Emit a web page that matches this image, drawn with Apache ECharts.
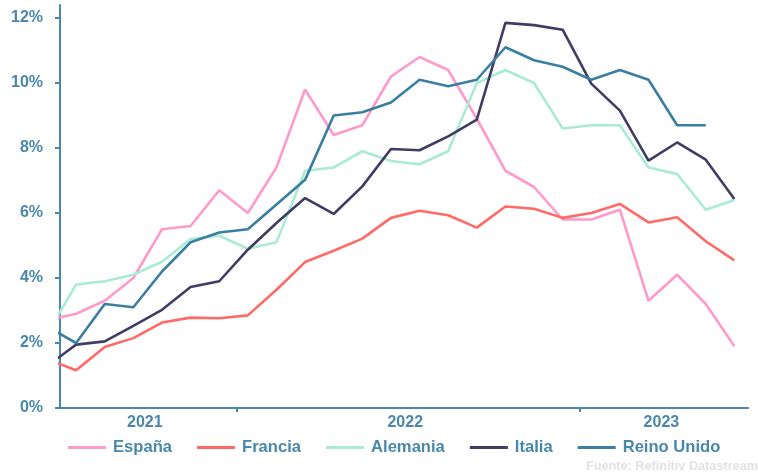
<!DOCTYPE html>
<html>
<head>
<meta charset="utf-8">
<script src="https://cdn.jsdelivr.net/npm/echarts@6/dist/echarts.min.js"></script>
<style>
html,body{margin:0;padding:0;background:#fff;}
#chart{width:758px;height:474px;}
</style>
</head>
<body>
<div id="chart"></div>
<script>
// Monthly data, Jun 2021 .. Jun 2023
var months = ['2021-06','2021-07','2021-08','2021-09','2021-10','2021-11','2021-12',
  '2022-01','2022-02','2022-03','2022-04','2022-05','2022-06','2022-07','2022-08','2022-09','2022-10','2022-11','2022-12',
  '2023-01','2023-02','2023-03','2023-04','2023-05','2023-06'];
var yearLabels = ['2021','2022','2023'];
var yTickLabels = ['0%','2%','4%','6%','8%','10%','12%'];

var espana   = [2.7, 2.9, 3.3, 4.0, 5.5, 5.6, 6.7, 6.0, 7.4, 9.8, 8.4, 8.7, 10.2, 10.8, 10.4, 8.9, 7.3, 6.8, 5.8, 5.8, 6.1, 3.3, 4.1, 3.2, 1.9];
var francia  = [1.5, 1.16, 1.88, 2.15, 2.63, 2.78, 2.76, 2.85, 3.64, 4.49, 4.84, 5.21, 5.85, 6.07, 5.93, 5.55, 6.2, 6.13, 5.85, 6.0, 6.28, 5.71, 5.87, 5.13, 4.54];
var alemania = [2.3, 3.8, 3.9, 4.1, 4.5, 5.2, 5.3, 4.9, 5.1, 7.3, 7.4, 7.9, 7.6, 7.5, 7.9, 10.0, 10.4, 10.0, 8.6, 8.7, 8.7, 7.4, 7.2, 6.1, 6.4];
var italia   = [1.3, 1.95, 2.05, 2.53, 3.02, 3.72, 3.9, 4.87, 5.69, 6.46, 5.97, 6.82, 7.97, 7.93, 8.36, 8.87, 11.85, 11.78, 11.64, 9.98, 9.15, 7.61, 8.17, 7.64, 6.43];
var reinoUnido = [2.5, 2.0, 3.2, 3.1, 4.2, 5.1, 5.4, 5.5, 6.26, 7.02, 9.0, 9.1, 9.4, 10.1, 9.9, 10.1, 11.1, 10.7, 10.5, 10.1, 10.4, 10.1, 8.7, 8.7, null];

var seriesNames = ['España','Francia','Alemania','Italia','Reino Unido'];
var seriesData = [espana, francia, alemania, italia, reinoUnido];
var colors = ['#ff9bca','#ff6a66','#a9ebd3','#403c64','#3a7ea1'];
var axisColor = '#4a87ad';
var fontFam = '"Liberation Sans", Arial, sans-serif';

function toPairs(arr){
  var out = [];
  for (var i = 0; i < arr.length; i++) out.push([i, arr[i]]);
  return out;
}

var yearLabelPos = [3.4, 12.5, 21.45];
var yearTickPos = [6.6, 18.6];

var chart = echarts.init(document.getElementById('chart'), null, {renderer:'canvas'});
var option = {
  animation: false,
  backgroundColor: '#ffffff',
  grid: {left: 60, right: 10, top: 5, bottom: 66, containLabel: false},
  xAxis: {
    type: 'value',
    min: 0.437,
    max: 24.476,
    axisLine: {show: true, lineStyle: {color: axisColor, width: 2}},
    axisTick: {show: true, customValues: yearTickPos, length: 4, lineStyle: {color: axisColor, width: 2}},
    splitLine: {show: false},
    axisLabel: {
      customValues: yearLabelPos,
      formatter: function(v){
        var idx = yearLabelPos.indexOf(v);
        return idx >= 0 ? yearLabels[idx] : '';
      },
      color: axisColor, fontSize: 16, fontWeight: 'bold', fontFamily: fontFam, margin: 7
    }
  },
  yAxis: {
    type: 'value',
    min: 0,
    max: 12.4,
    axisLine: {show: true, lineStyle: {color: axisColor, width: 2}},
    axisTick: {show: true, customValues: [0,2,4,6,8,10,12], length: 5, lineStyle: {color: axisColor, width: 2}},
    splitLine: {show: false},
    axisLabel: {
      customValues: [0,2,4,6,8,10,12],
      formatter: function(v){ return yTickLabels[Math.round(v/2)] || ''; },
      color: axisColor, fontSize: 16, fontWeight: 'bold', fontFamily: fontFam, margin: 17
    }
  },
  legend: {
    left: 63,
    top: 434,
    icon: 'rect',
    itemWidth: 38,
    itemHeight: 3,
    itemGap: 25,
    textStyle: {color: axisColor, fontSize: 16.6, fontWeight: 'bold', fontFamily: fontFam, padding: [0,0,0,2]},
    data: seriesNames
  },
  graphic: [{
    type: 'text',
    right: 0,
    top: 460,
    style: {text: 'Fuente: Refinitiv Datastream', fill: '#e2e2e2', font: 'bold 12.7px "Liberation Sans", Arial, sans-serif'}
  }],
  series: seriesNames.map(function(name, k){
    return {
      name: name,
      type: 'line',
      data: toPairs(seriesData[k]),
      symbol: 'none',
      showSymbol: false,
      connectNulls: false,
      clip: true,
      color: colors[k],
      lineStyle: {color: colors[k], width: 2.6},
      emphasis: {disabled: true}
    };
  })
};
chart.setOption(option);
</script>
</body>
</html>
